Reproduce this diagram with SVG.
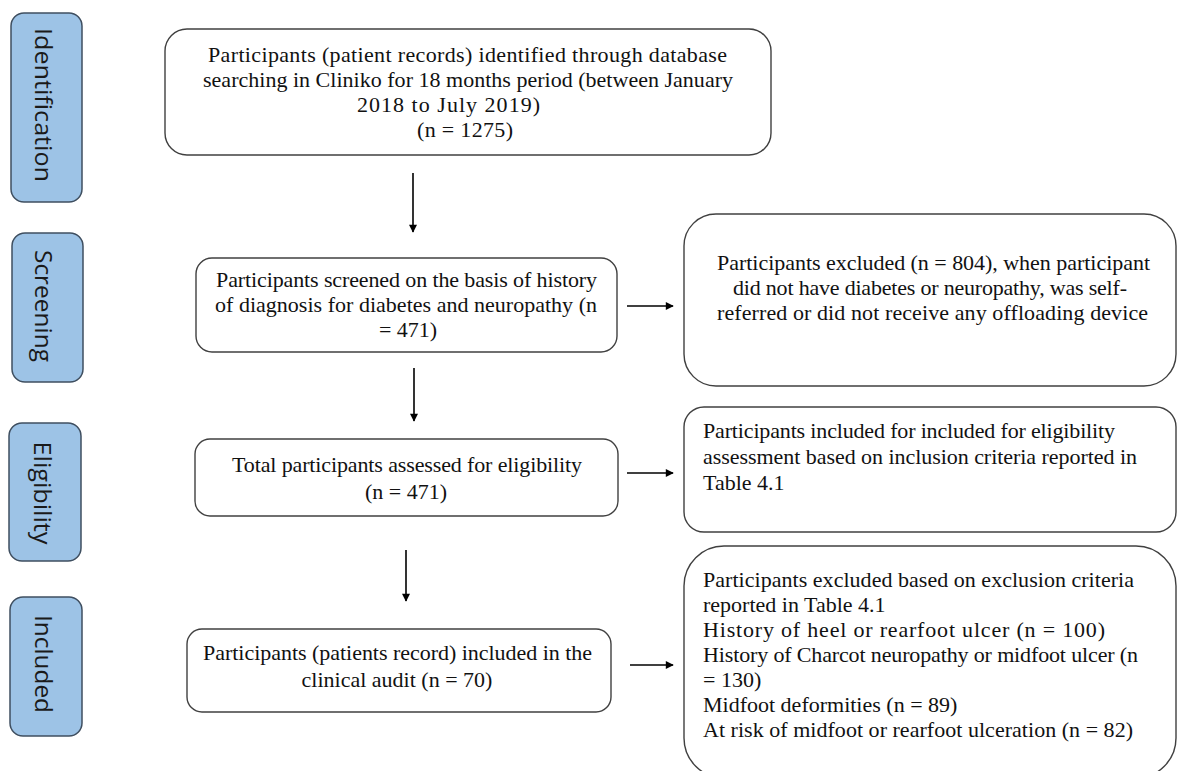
<svg xmlns="http://www.w3.org/2000/svg" width="1177" height="771" viewBox="0 0 1177 771">
<defs>
<marker id="ah" viewBox="0 0 10 10" refX="9" refY="5" markerWidth="9" markerHeight="8" markerUnits="userSpaceOnUse" orient="auto">
<path d="M0,0 L10,5 L0,10 z" fill="#000"/>
</marker>
</defs>
<style>
.stage rect{fill:#9DC3E6;stroke:#3F4F60;stroke-width:1.5}
.stage text{font-family:"Open Sans","Noto Sans",sans-serif;font-size:23px;fill:#1a1a1a;text-anchor:middle}
.node rect{fill:#fff;stroke:#404040;stroke-width:1.4}
.node text{font-family:"Liberation Serif","Times New Roman",serif;font-size:22px;fill:#111}
.mid{text-anchor:middle}
.conn line{stroke:#000;stroke-width:1.6;marker-end:url(#ah)}
</style>
<rect width="1177" height="771" fill="#fff"/>

<g id="stage-identification" class="stage">
<rect x="11" y="13" width="71" height="189" rx="13"/>
<text transform="translate(46,105) rotate(90)" y="11" textLength="154" lengthAdjust="spacingAndGlyphs">Identification</text>
</g>
<g id="stage-screening" class="stage">
<rect x="12" y="233" width="71" height="149" rx="13"/>
<text transform="translate(46,306) rotate(90)" y="11" textLength="112" lengthAdjust="spacingAndGlyphs">Screening</text>
</g>
<g id="stage-eligibility" class="stage">
<rect x="9" y="423" width="72" height="138" rx="13"/>
<text transform="translate(45,493) rotate(90)" y="11" textLength="103" lengthAdjust="spacingAndGlyphs">Eligibility</text>
</g>
<g id="stage-included" class="stage">
<rect x="10" y="597" width="72" height="139" rx="13"/>
<text transform="translate(46,664) rotate(90)" y="11" textLength="98" lengthAdjust="spacingAndGlyphs">Included</text>
</g>

<g id="node-identified" class="node">
<rect x="165" y="29" width="606" height="126" rx="22"/>
<text x="208" y="62" textLength="519">Participants (patient records) identified through database</text>
<text x="203" y="87" textLength="530">searching in Cliniko  for 18 months period (between January</text>
<text x="357" y="112" textLength="183">2018 to July 2019)</text>
<text x="417" y="137" textLength="96">(n = 1275)</text>
</g>

<g id="node-screened" class="node">
<rect x="196" y="258" width="421" height="94" rx="16"/>
<text x="216" y="287" textLength="381">Participants screened on the basis of history</text>
<text x="215" y="312" textLength="382">of diagnosis for diabetes and neuropathy (n</text>
<text x="408" y="337" class="mid">= 471)</text>
</g>

<g id="node-excluded-804" class="node">
<rect x="684" y="214" width="492" height="172" rx="32"/>
<text x="717" y="270" textLength="433">Participants excluded (n = 804), when participant</text>
<text x="733" y="295" textLength="394">did not have diabetes or neuropathy, was self-</text>
<text x="717" y="320" textLength="431">referred or did not receive any offloading  device</text>
</g>

<g id="node-assessed" class="node">
<rect x="195" y="439" width="423" height="77" rx="15"/>
<text x="232" y="472" textLength="350">Total participants assessed for eligibility</text>
<text x="406" y="499" class="mid">(n = 471)</text>
</g>

<g id="node-inclusion" class="node">
<rect x="684" y="407" width="492" height="125" rx="20"/>
<text x="703" y="438" textLength="412">Participants included for included for eligibility</text>
<text x="703" y="464" textLength="434">assessment based on inclusion criteria reported in</text>
<text x="703" y="490">Table 4.1</text>
</g>

<g id="node-included" class="node">
<rect x="187" y="629" width="424" height="83" rx="15"/>
<text x="203" y="660" textLength="389">Participants (patients record) included in the</text>
<text x="397" y="687" class="mid">clinical  audit (n = 70)</text>
</g>

<g id="node-exclusion" class="node">
<rect x="684" y="546" width="492" height="232" rx="40"/>
<text x="703" y="587" textLength="431">Participants excluded based on exclusion criteria</text>
<text x="703" y="612">reported in  Table 4.1</text>
<text x="703" y="637" textLength="402">History of heel  or rearfoot ulcer (n = 100)</text>
<text x="703" y="662" textLength="435">History of Charcot neuropathy or midfoot ulcer (n</text>
<text x="703" y="687">= 130)</text>
<text x="703" y="712">Midfoot deformities (n = 89)</text>
<text x="703" y="737" textLength="430">At risk of midfoot or rearfoot ulceration (n = 82)</text>
</g>

<g id="connectors" class="conn">
<line x1="413" y1="173" x2="413" y2="232"/>
<line x1="627" y1="306" x2="673" y2="306"/>
<line x1="414" y1="368" x2="414" y2="421"/>
<line x1="627" y1="473" x2="673" y2="473"/>
<line x1="406" y1="550" x2="406" y2="601"/>
<line x1="630" y1="665" x2="673" y2="665"/>
</g>
</svg>
